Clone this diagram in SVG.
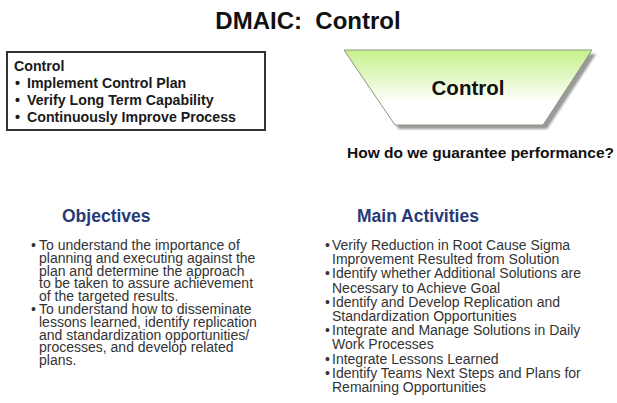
<svg xmlns="http://www.w3.org/2000/svg" width="617" height="403" viewBox="0 0 617 403">
<defs>
<linearGradient id="g" x1="0" y1="0" x2="0" y2="1">
<stop offset="0" stop-color="#c6f08a"/>
<stop offset="0.7" stop-color="#ffffff"/>
<stop offset="1" stop-color="#ffffff"/>
</linearGradient>
<filter id="blur" x="-10%" y="-10%" width="120%" height="130%"><feGaussianBlur stdDeviation="1.2"/></filter>
</defs>
<style>
text{font-family:"Liberation Sans",Arial,sans-serif}
.b{font-weight:bold;fill:#111}
.h{font-weight:bold;fill:#263a78;font-size:17.5px}
.t{fill:#333;font-size:14px}
.bx{font-weight:bold;fill:#1a1a1a;font-size:14.2px}
</style>
<rect width="617" height="403" fill="#ffffff"/>
<text class="b" x="308" y="29" font-size="24" text-anchor="middle" xml:space="preserve" style="white-space:pre">DMAIC:  Control</text>
<g id="control-box">
<rect x="7" y="52" width="258" height="78" fill="#fff" stroke="#333" stroke-width="2"/>
<text class="bx" x="14" y="71">Control</text>
<text class="bx" x="15" y="88">•</text><text class="bx" x="27" y="88">Implement Control Plan</text>
<text class="bx" x="15" y="105">•</text><text class="bx" x="27" y="105">Verify Long Term Capability</text>
<text class="bx" x="15" y="122">•</text><text class="bx" x="27" y="122">Continuously Improve Process</text>
</g>
<g id="control-phase">
<polygon points="348,54 596,54 547,129 399,129" fill="#999" filter="url(#blur)"/>
<polygon points="344,50 592,50 543,125 395,125" fill="url(#g)" stroke="#8c9c80" stroke-width="1"/>
<text class="b" x="468" y="95" font-size="20.5" text-anchor="middle">Control</text>
</g>
<text class="b" x="347" y="158" font-size="15.5">How do we guarantee performance?</text>
<g id="objectives">
<text class="h" x="62" y="222">Objectives</text>
<text class="t" x="31" y="250">•</text>
<text class="t" x="39" y="250">To understand the importance of</text>
<text class="t" x="39" y="262.8">planning and executing against the</text>
<text class="t" x="39" y="275.6">plan and determine the approach</text>
<text class="t" x="39" y="288.4">to be taken to assure achievement</text>
<text class="t" x="39" y="301.2">of the targeted results.</text>
<text class="t" x="31" y="314">•</text>
<text class="t" x="39" y="314">To understand how to disseminate</text>
<text class="t" x="39" y="326.8">lessons learned, identify replication</text>
<text class="t" x="39" y="339.6">and standardization opportunities/</text>
<text class="t" x="39" y="352.4">processes, and develop related</text>
<text class="t" x="39" y="365.2">plans.</text>
</g>
<g id="main-activities">
<text class="h" x="357" y="222">Main Activities</text>
<text class="t" x="325" y="250">•</text>
<text class="t" x="332" y="250">Verify Reduction in Root Cause Sigma</text>
<text class="t" x="332" y="264.2">Improvement Resulted from Solution</text>
<text class="t" x="325" y="278.4">•</text>
<text class="t" x="332" y="278.4">Identify whether Additional Solutions are</text>
<text class="t" x="332" y="292.6">Necessary to Achieve Goal</text>
<text class="t" x="325" y="306.8">•</text>
<text class="t" x="332" y="306.8">Identify and Develop Replication and</text>
<text class="t" x="332" y="321">Standardization Opportunities</text>
<text class="t" x="325" y="335.2">•</text>
<text class="t" x="332" y="335.2">Integrate and Manage Solutions in Daily</text>
<text class="t" x="332" y="349.4">Work Processes</text>
<text class="t" x="325" y="363.6">•</text>
<text class="t" x="332" y="363.6">Integrate Lessons Learned</text>
<text class="t" x="325" y="377.8">•</text>
<text class="t" x="332" y="377.8">Identify Teams Next Steps and Plans for</text>
<text class="t" x="332" y="392">Remaining Opportunities</text>
</g>
</svg>
